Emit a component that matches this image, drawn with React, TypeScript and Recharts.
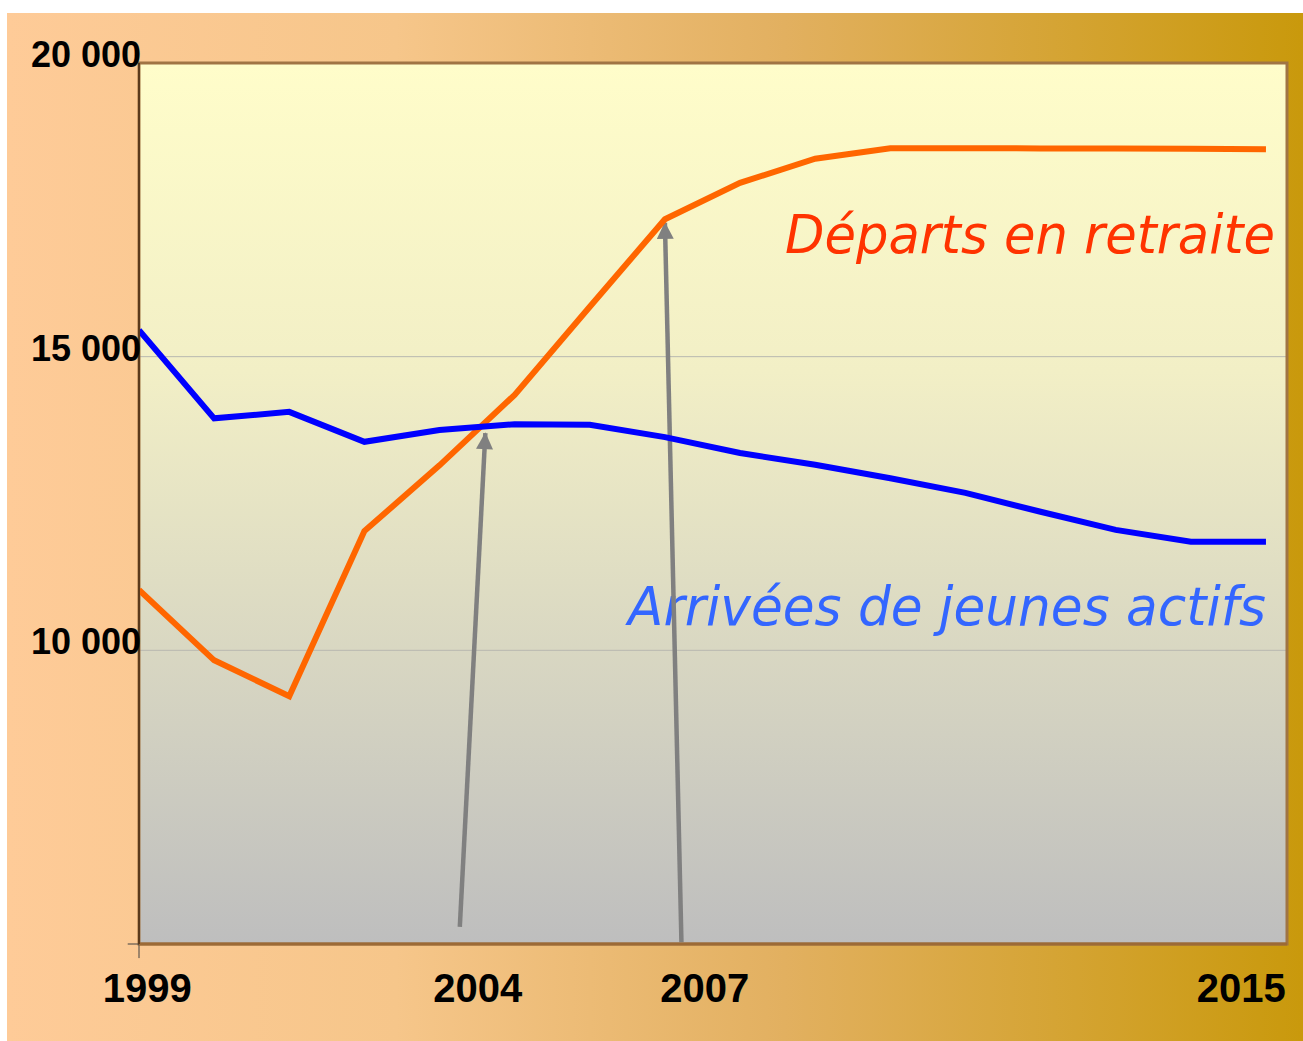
import { CartesianGrid, LineChart, Line, ReferenceArea, ReferenceLine, XAxis, YAxis } from 'recharts';

// one point per year, index 0 = 1999
const idx = [0, 1, 2, 3, 4, 5, 6, 7, 8, 9, 10, 11, 12, 13, 14, 15];
const departs = [11030, 9830, 9220, 12030, 13150, 14350, 15850, 17340, 17960, 18370, 18550, 18550, 18545, 18545, 18540, 18530];
const arrivees = [15450, 13950, 14060, 13550, 13750, 13850, 13840, 13630, 13360, 13160, 12930, 12680, 12360, 12050, 11850, 11850];

const yTicks = [10000, 15000, 20000];
const xLabels = ['1999', '2004', '2007', '2015'];
const xLabelPos = [0.11, 4.51, 7.53, 14.67];

// annotation arrows [x1, y1, x2, y2] in data units (tail -> head)
const arrows = [
  [4.27, 5290, 4.61, 13700],
  [7.22, 5030, 7.0, 17280],
];

const data = idx.map((i) => ({ i, departs: departs[i], arrivees: arrivees[i] }));

const W = 1303;
const H = 1041;

const fmt = (v: number) => v.toLocaleString('fr-FR').replace(/\s/g, ' ');

function YTick(props: any) {
  const { x, y, payload } = props;
  return (
    <text x={x + 2} y={y + 4} textAnchor="end" fontFamily="'Liberation Sans', Arial, sans-serif" fontWeight="bold" fontSize={36} fill="#000">
      {fmt(payload.value)}
    </text>
  );
}

function XTick(props: any) {
  const { x, y, payload } = props;
  const k = xLabelPos.indexOf(payload.value);
  return (
    <text x={x} y={y + 58} textAnchor="middle" fontFamily="'Liberation Sans', Arial, sans-serif" fontWeight="bold" fontSize={40} fill="#000">
      {xLabels[k]}
    </text>
  );
}

export default function App() {
  return (
    <div style={{ position: 'absolute', left: 0, top: 0, width: W, height: H, background: '#fff' }}>
      <div
        style={{
          position: 'absolute',
          left: 7,
          top: 13,
          width: W - 7,
          height: H - 13,
          background: 'linear-gradient(to right, #fecb98 0%, #f6c68a 30%, #e2b060 60%, #c9990c 100%)',
        }}
      />
      <LineChart
        width={W}
        height={H}
        data={data}
        margin={{ top: 63, right: 16, bottom: 0, left: 0 }}
        style={{ position: 'absolute', left: 0, top: 0 }}
      >
        <defs>
          <linearGradient id="plotBg" x1="0" y1="0" x2="0" y2="1">
            <stop offset="0%" stopColor="#fffdca" />
            <stop offset="35%" stopColor="#f2efc6" />
            <stop offset="100%" stopColor="#bebebe" />
          </linearGradient>
          <marker
            id="arrowHead"
            viewBox="0 0 10 10"
            refX="9.5"
            refY="5"
            markerUnits="userSpaceOnUse"
            markerWidth="19"
            markerHeight="17"
            orient="auto"
          >
            <path d="M0,0 L10,5 L0,10 z" fill="#808080" />
          </marker>
        </defs>
        <CartesianGrid fill="url(#plotBg)" fillOpacity={1} vertical={false} stroke="#b8b8b0" strokeWidth={1} />
        <ReferenceArea x1={0} x2={15.28} y1={5000} y2={20000} fill="none" stroke="#a07444" strokeWidth={3} ifOverflow="visible" />
        <XAxis
          dataKey="i"
          type="number"
          domain={[0, 15.28]}
          ticks={xLabelPos}
          interval={0}
          height={97}
          tickSize={0}
          tickMargin={0}
          tick={<XTick />}
          axisLine={{ stroke: '#9c6a36', strokeWidth: 3 }}
          allowDataOverflow
        />
        <YAxis
          type="number"
          domain={[5000, 20000]}
          ticks={yTicks}
          interval={0}
          width={139}
          tickSize={0}
          tickMargin={0}
          tick={<YTick />}
          axisLine={{ stroke: '#5a3a1c', strokeWidth: 2 }}
        />
        {/* little corner ticks at the origin */}
        <ReferenceLine segment={[{ x: -0.15, y: 5000 }, { x: 0, y: 5000 }]} stroke="#404040" strokeWidth={1} ifOverflow="visible" />
        <ReferenceLine segment={[{ x: 0, y: 5000 }, { x: 0, y: 4760 }]} stroke="#404040" strokeWidth={1} ifOverflow="visible" />
        {arrows.map((a, k) => (
          <ReferenceLine
            key={k}
            segment={[
              { x: a[0], y: a[1] },
              { x: a[2], y: a[3] },
            ]}
            stroke="#808080"
            strokeWidth={4.5}
            markerEnd="url(#arrowHead)"
            ifOverflow="visible"
          />
        ))}
        <Line
          dataKey="departs"
          stroke="#ff6600"
          strokeWidth={6}
          dot={false}
          activeDot={false}
          strokeLinejoin="miter"
          isAnimationActive={false}
        />
        <Line
          dataKey="arrivees"
          stroke="#0000ff"
          strokeWidth={6}
          dot={false}
          activeDot={false}
          strokeLinejoin="miter"
          isAnimationActive={false}
        />
        <text
          x={785}
          y={253}
          fontFamily="'Comic Sans MS', 'DejaVu Sans', sans-serif"
          fontStyle="italic"
          fontSize={53}
          fill="#ff3300"
          textLength={490}
          lengthAdjust="spacingAndGlyphs"
        >
          Départs en retraite
        </text>
        <text
          x={628}
          y={625}
          fontFamily="'Comic Sans MS', 'DejaVu Sans', sans-serif"
          fontStyle="italic"
          fontSize={53}
          fill="#3366ff"
          textLength={638}
          lengthAdjust="spacingAndGlyphs"
        >
          Arrivées de jeunes actifs
        </text>
      </LineChart>
    </div>
  );
}
